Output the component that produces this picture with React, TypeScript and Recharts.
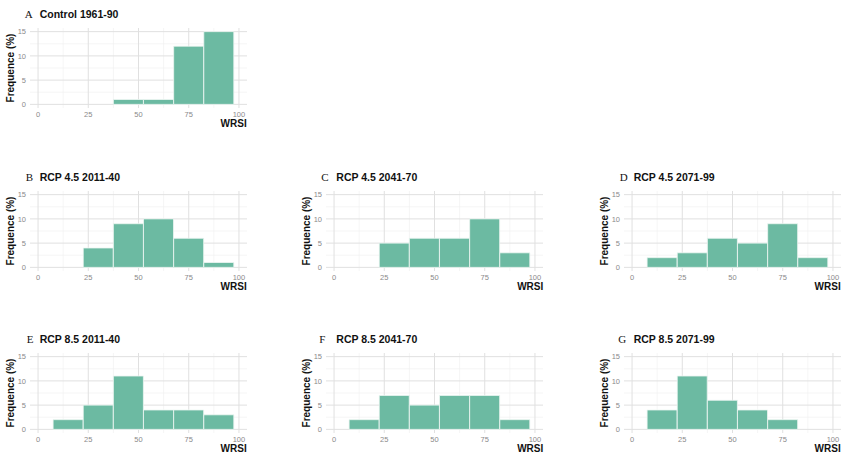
import React from 'react';
import { BarChart, Bar, XAxis, YAxis, CartesianGrid } from 'recharts';

// bin centres of the WRSI histogram (binwidth 15)
const BIN_CENTERS = [0, 15, 30, 45, 60, 75, 90];

// frequencies (%) per bin
const CONTROL_1961_90 = [0, 0, 0, 1, 1, 12, 15];
const RCP45_2011_40 = [0, 0, 4, 9, 10, 6, 1];
const RCP45_2041_70 = [0, 0, 5, 6, 6, 10, 3];
const RCP45_2071_99 = [0, 2, 3, 6, 5, 9, 2];
const RCP85_2011_40 = [0, 2, 5, 11, 4, 4, 3];
const RCP85_2041_70 = [0, 2, 7, 5, 7, 7, 2];
const RCP85_2071_99 = [0, 4, 11, 6, 4, 2, 0];

const X_TICKS = [0, 25, 50, 75, 100];
const Y_TICKS = [0, 5, 10, 15];
const X_MINOR = [12.5, 37.5, 62.5, 87.5];
const Y_MINOR = [2.5, 7.5, 12.5];

const X_DOMAIN: [number, number] = [-4, 104];
const Y_DOMAIN: [number, number] = [-0.75, 15.75];

const BAR_COLOR = '#6cbaa2';
const SANS = 'Arial, "Liberation Sans", Helvetica, sans-serif';
const SERIF = '"Liberation Serif", "Times New Roman", serif';

const PLOT_W = 217;
const PLOT_H = 80;
const COL_X0 = [37.7, 334.3, 631.7];
const ROW_Y0 = [104.3, 267, 429.3];

const panels = [
  { letter: 'A', title: 'Control 1961-90', values: CONTROL_1961_90, col: 0, row: 0, letterDx: -13 },
  { letter: 'B', title: 'RCP 4.5 2011-40', values: RCP45_2011_40, col: 0, row: 1, letterDx: -12 },
  { letter: 'C', title: 'RCP 4.5 2041-70', values: RCP45_2041_70, col: 1, row: 1, letterDx: -13 },
  { letter: 'D', title: 'RCP 4.5 2071-99', values: RCP45_2071_99, col: 2, row: 1, letterDx: -12 },
  { letter: 'E', title: 'RCP 8.5 2011-40', values: RCP85_2011_40, col: 0, row: 2, letterDx: -11 },
  { letter: 'F', title: 'RCP 8.5 2041-70', values: RCP85_2041_70, col: 1, row: 2, letterDx: -15 },
  { letter: 'G', title: 'RCP 8.5 2071-99', values: RCP85_2071_99, col: 2, row: 2, letterDx: -13.5 },
];

const Y_AXIS_W = 40;
const TOP_PAD = 5;
const RIGHT_PAD = 5;
const X_AXIS_H = 20;

function Panel({ letter, title, values, col, row, letterDx }: any) {
  const x0 = COL_X0[col];
  const y0 = ROW_Y0[row];
  const plotLeft = x0 - ((0 - X_DOMAIN[0]) / (X_DOMAIN[1] - X_DOMAIN[0])) * PLOT_W;
  const plotTop = y0 - ((Y_DOMAIN[1] - 0) / (Y_DOMAIN[1] - Y_DOMAIN[0])) * PLOT_H;
  const data = BIN_CENTERS.map((x, i) => ({ x, freq: values[i] }));
  const titleY = y0 - 90;

  return (
    <>
      <div
        style={{
          position: 'absolute',
          left: x0 + letterDx,
          top: titleY - 8,
          height: 16,
          lineHeight: '16px',
          fontFamily: SERIF,
          fontSize: 11,
          color: '#111',
        }}
      >
        {letter}
      </div>
      <div
        style={{
          position: 'absolute',
          left: x0 + 2,
          top: titleY - 8,
          height: 16,
          lineHeight: '16px',
          fontFamily: SANS,
          fontSize: 10.5,
          fontWeight: 'bold',
          color: '#111',
          whiteSpace: 'nowrap',
        }}
      >
        {title}
      </div>
      <div
        style={{
          position: 'absolute',
          left: x0 - 27 - 50,
          top: plotTop + PLOT_H / 2 - 7,
          width: 100,
          height: 14,
          lineHeight: '14px',
          textAlign: 'center',
          transform: 'rotate(-90deg)',
          fontFamily: SANS,
          fontSize: 10,
          fontWeight: 'bold',
          color: '#111',
          whiteSpace: 'nowrap',
        }}
      >
        Frequence (%)
      </div>
      <div
        style={{
          position: 'absolute',
          left: plotLeft + PLOT_W - 60,
          top: y0 + 20 - 7,
          width: 60,
          height: 14,
          lineHeight: '14px',
          textAlign: 'right',
          fontFamily: SANS,
          fontSize: 10,
          fontWeight: 'bold',
          color: '#111',
        }}
      >
        WRSI
      </div>
      <div style={{ position: 'absolute', left: plotLeft - Y_AXIS_W, top: plotTop - TOP_PAD }}>
        <BarChart
          width={Y_AXIS_W + PLOT_W + RIGHT_PAD}
          height={TOP_PAD + PLOT_H + X_AXIS_H}
          data={data}
          margin={{ top: TOP_PAD, right: RIGHT_PAD, left: 0, bottom: 0 }}
          barCategoryGap={0}
          barGap={0}
        >
          <CartesianGrid
            stroke="#f0f0f0"
            strokeWidth={0.7}
            horizontalValues={Y_MINOR}
            verticalValues={X_MINOR}
            syncWithTicks
          />
          <CartesianGrid stroke="#e0e0e0" strokeWidth={1} syncWithTicks />
          <XAxis
            type="number"
            dataKey="x"
            domain={X_DOMAIN}
            ticks={X_TICKS}
            allowDataOverflow
            axisLine={false}
            tickLine={false}
            tickSize={1}
            tickMargin={3}
            height={X_AXIS_H}
            interval={0}
            tick={{ fill: '#8a8a8a', fontSize: 7.5, fontFamily: SANS }}
          />
          <YAxis
            type="number"
            domain={Y_DOMAIN}
            ticks={Y_TICKS}
            allowDataOverflow
            axisLine={false}
            tickLine={false}
            tickSize={2}
            tickMargin={2}
            width={Y_AXIS_W}
            interval={0}
            tick={{ fill: '#8a8a8a', fontSize: 7.5, fontFamily: SANS }}
          />
          <Bar
            dataKey="freq"
            fill={BAR_COLOR}
            stroke="#eef6f3"
            strokeWidth={0.8}
            isAnimationActive={false}
          />
        </BarChart>
      </div>
    </>
  );
}

export default function App() {
  return (
    <div
      style={{
        position: 'absolute',
        left: 0,
        top: 0,
        width: 850,
        height: 463,
        background: '#ffffff',
        overflow: 'hidden',
      }}
    >
      {panels.map((p) => (
        <Panel key={p.letter} {...p} />
      ))}
    </div>
  );
}
